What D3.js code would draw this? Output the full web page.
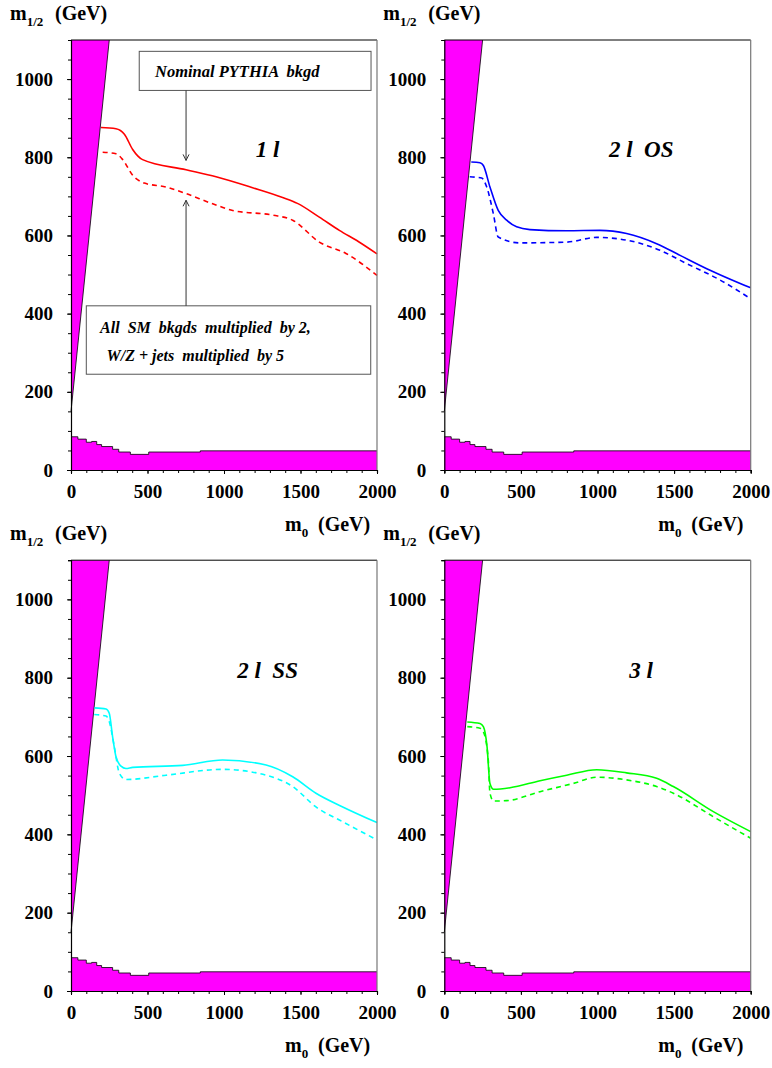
<!DOCTYPE html>
<html><head><meta charset="utf-8">
<script src="https://cdn.jsdelivr.net/npm/d3@7"></script>
<style>body{margin:0;background:#fff}</style>
</head><body>
<script>
// ---- data ----
const xTicks = [0, 500, 1000, 1500, 2000];
const yTicks = [0, 200, 400, 600, 800, 1000];
const xMinorStep = 100, yMinorStep = 50;
const xDomain = [0, 2000], yDomain = [0, 1100];

const panelNames = ["1 l", "2 l \u00A0OS", "2 l \u00A0SS", "3 l"];
const panelColors = ["#ff0000", "#0000ff", "#00ffff", "#00ff00"];

// excluded (theory) regions [m0, m1/2]
const wedgeRegion = [[0, 150], [250, 1100], [0, 1100]];
const lowRegion = [[0, 85], [45, 79], [100, 71], [135, 73], [168, 65], [200, 60], [272, 53], [312, 46], [388, 40], [508, 46], [845, 49], [2000, 49]];

// reach contours [m0, m1/2]: solid = nominal PYTHIA bkgd, dashed = bkgds multiplied
const oneLSolid = [[196,876],[294,873],[349,859],[403,820],[468,794],[752,768],[948,750],[1187,722],[1383,697],[1480,682],[1623,647],[1754,613],[1880,584],[2000,553]];
const oneLDashed = [[207,813],[294,809],[338,794],[403,754],[479,734],[621,724],[752,707],[926,681],[1057,664],[1318,652],[1449,639],[1623,583],[1797,554],[2000,498]];
const twoOSSolid = [[176,788],[233,786],[255,779],[298,724],[352,664],[407,639],[472,622],[559,615],[799,612],[1016,613],[1190,605],[1386,579],[1539,549],[1713,515],[2000,466]];
const twoOSDashed = [[166,750],[244,747],[277,724],[320,656],[352,596],[494,581],[799,583],[995,595],[1190,588],[1408,562],[1582,528],[1800,486],[2000,438]];
const twoSSSolid = [[154,723],[229,720],[250,709],[272,649],[294,598],[327,574],[359,568],[403,571],[730,576],[991,590],[1275,577],[1449,547],[1601,505],[1776,470],[2000,430]];
const twoSSDashed = [[152,706],[229,702],[250,688],[283,624],[316,556],[359,540],[621,551],[991,566],[1275,551],[1449,522],[1601,470],[1776,432],[2000,386]];
const threeLSolid = [[150,687],[233,683],[255,675],[279,624],[298,530],[322,515],[429,519],[625,537],[799,551],[995,565],[1190,557],[1386,543],[1495,522],[1756,458],[2000,407]];
const threeLDashed = [[150,675],[233,671],[255,662],[287,590],[298,505],[322,485],[407,486],[625,509],[842,530],[995,546],[1190,539],[1386,522],[1495,505],[1756,445],[2000,390]];

const solidSeries = [oneLSolid, twoOSSolid, twoSSSolid, threeLSolid];
const dashedSeries = [oneLDashed, twoOSDashed, twoSSDashed, threeLDashed];

// annotation (1 l panel)
const box1Text = ["Nominal PYTHIA \u00A0bkgd"];
const box2Text = ["All \u00A0SM \u00A0bkgds \u00A0multiplied \u00A0by 2,", "W/Z + jets \u00A0multiplied \u00A0by 5"];

// ---- layout ----
const W = 772, H = 1068;
const FONT = "'Liberation Serif', 'Times New Roman', Times, 'DejaVu Serif', serif";
const frames = [
  {x0: 71, x1: 377, yT: 40, yB: 470},
  {x0: 444.3, x1: 750.7, yT: 40, yB: 470},
  {x0: 71, x1: 377, yT: 560.2, yB: 991},
  {x0: 444.3, x1: 750.7, yT: 560.2, yB: 991}
];

const svg = d3.select("body").append("svg").attr("width", W).attr("height", H)
  .style("font-family", FONT).style("font-weight", "bold");

function txt(sel) { return sel.attr("font-family", FONT).attr("font-weight", "bold"); }

frames.forEach((f, i) => {
  const x = d3.scaleLinear().domain(xDomain).range([f.x0, f.x1]);
  const y = d3.scaleLinear().domain(yDomain).range([f.yB, f.yT]);
  const g = svg.append("g");

  // excluded regions
  g.append("path").datum(lowRegion)
    .attr("d", d3.area().x(d => x(d[0])).y0(y(0)).y1(d => y(d[1])).curve(d3.curveStepAfter))
    .attr("fill", "#ff00ff").attr("stroke", "none");
  g.append("path").datum(lowRegion)
    .attr("d", d3.line().x(d => x(d[0])).y(d => y(d[1])).curve(d3.curveStepAfter))
    .attr("fill", "none").attr("stroke", "#000").attr("stroke-width", 0.8);
  const wedgeLine = d3.line().x(d => x(d[0])).y(d => y(d[1]));
  g.append("path")
    .attr("d", wedgeLine(wedgeRegion) + "Z")
    .attr("fill", "#ff00ff").attr("stroke", "none");
  g.append("line")
    .attr("x1", x(wedgeRegion[0][0])).attr("y1", y(wedgeRegion[0][1]))
    .attr("x2", x(wedgeRegion[1][0])).attr("y2", y(wedgeRegion[1][1]))
    .attr("stroke", "#000").attr("stroke-width", 0.8);

  // curves
  const line = d3.line().x(d => x(d[0])).y(d => y(d[1])).curve(d3.curveMonotoneX);
  g.append("path").datum(solidSeries[i]).attr("d", line)
    .attr("fill", "none").attr("stroke", panelColors[i]).attr("stroke-width", 1.6);
  g.append("path").datum(dashedSeries[i]).attr("d", line)
    .attr("fill", "none").attr("stroke", panelColors[i]).attr("stroke-width", 1.6)
    .attr("stroke-dasharray", "5,4");

  // frame
  g.append("line").attr("x1", f.x0).attr("x2", f.x1).attr("y1", f.yT).attr("y2", f.yT).attr("stroke", "#000").attr("stroke-width", 1);
  g.append("line").attr("x1", f.x1).attr("x2", f.x1).attr("y1", f.yT).attr("y2", f.yB).attr("stroke", "#777").attr("stroke-width", 1.2);

  // axes
  const xMinor = d3.range(xDomain[0], xDomain[1] + 1, xMinorStep);
  const yMinor = d3.range(yDomain[0], yDomain[1] + 1, yMinorStep);
  const gx = g.append("g").attr("transform", `translate(0,${f.yB})`)
    .call(d3.axisBottom(x).tickValues(xMinor).tickSize(3).tickFormat(""));
  gx.select(".domain").attr("stroke-width", 1.2);
  const gxl = g.append("g").attr("transform", `translate(0,${f.yB})`)
    .call(d3.axisBottom(x).tickValues(xTicks).tickSize(4).tickPadding(6).tickFormat(d3.format("d")));
  gxl.select(".domain").remove();
  txt(gxl.selectAll("text")).attr("font-size", 19).attr("fill", "#000").attr("dy", "0.95em");

  const gy = g.append("g").attr("transform", `translate(${f.x0},0)`)
    .call(d3.axisLeft(y).tickValues(yMinor).tickSize(3).tickFormat(""));
  gy.select(".domain").attr("stroke-width", 1.2);
  const gyl = g.append("g").attr("transform", `translate(${f.x0},0)`)
    .call(d3.axisLeft(y).tickValues(yTicks).tickSize(4).tickPadding(14).tickFormat(d3.format("d")));
  gyl.select(".domain").remove();
  txt(gyl.selectAll("text")).attr("font-size", 19).attr("fill", "#000");

  // axis titles
  const yt = txt(g.append("text")).attr("x", f.x0 - 61).attr("y", f.yT - 20).attr("font-size", 20);
  yt.append("tspan").text("m");
  yt.append("tspan").attr("font-size", 13).attr("dy", 6).text("1/2");
  txt(g.append("text")).attr("x", f.x0 - 16).attr("y", f.yT - 20).attr("font-size", 20).text("(GeV)");

  const xt = txt(g.append("text")).attr("x", f.x0 + 214).attr("y", f.yB + 61).attr("font-size", 20);
  xt.append("tspan").text("m");
  xt.append("tspan").attr("font-size", 13).attr("dy", 6).text("0");
  txt(g.append("text")).attr("x", f.x0 + 247).attr("y", f.yB + 61).attr("font-size", 20).text("(GeV)");

  // panel label
  txt(g.append("text")).attr("x", x(1285)).attr("y", y(800)).attr("text-anchor", "middle")
    .attr("font-size", 23).attr("font-style", "italic")
    .text(panelNames[i]);

  if (i === 0) {
    g.append("rect").attr("x", x(446)).attr("y", y(1071)).attr("width", x(1961) - x(446)).attr("height", y(971) - y(1071))
      .attr("fill", "#fff").attr("stroke", "#555").attr("stroke-width", 1);
    txt(g.append("text")).attr("x", x(549)).attr("y", y(1006)).attr("font-size", 16.5).attr("font-style", "italic")
      .text(box1Text[0]);
    g.append("rect").attr("x", x(100)).attr("y", y(420)).attr("width", x(1959) - x(100)).attr("height", y(245) - y(420))
      .attr("fill", "#fff").attr("stroke", "#555").attr("stroke-width", 1);
    txt(g.append("text")).attr("x", x(190)).attr("y", y(350)).attr("font-size", 16).attr("font-style", "italic")
      .text(box2Text[0]);
    txt(g.append("text")).attr("x", x(232)).attr("y", y(280)).attr("font-size", 16).attr("font-style", "italic")
      .text(box2Text[1]);
    const ax = x(752);
    g.append("line").attr("x1", ax).attr("x2", ax).attr("y1", y(971)).attr("y2", y(792)).attr("stroke", "#333").attr("stroke-width", 1);
    g.append("path").attr("d", `M${ax-3},${y(792)-6}L${ax},${y(792)}L${ax+3},${y(792)-6}`).attr("fill", "none").attr("stroke", "#333").attr("stroke-width", 1);
    g.append("line").attr("x1", ax).attr("x2", ax).attr("y1", y(420)).attr("y2", y(690)).attr("stroke", "#333").attr("stroke-width", 1);
    g.append("path").attr("d", `M${ax-3},${y(690)+6}L${ax},${y(690)}L${ax+3},${y(690)+6}`).attr("fill", "none").attr("stroke", "#333").attr("stroke-width", 1);
  }
});
</script>
</body></html>
